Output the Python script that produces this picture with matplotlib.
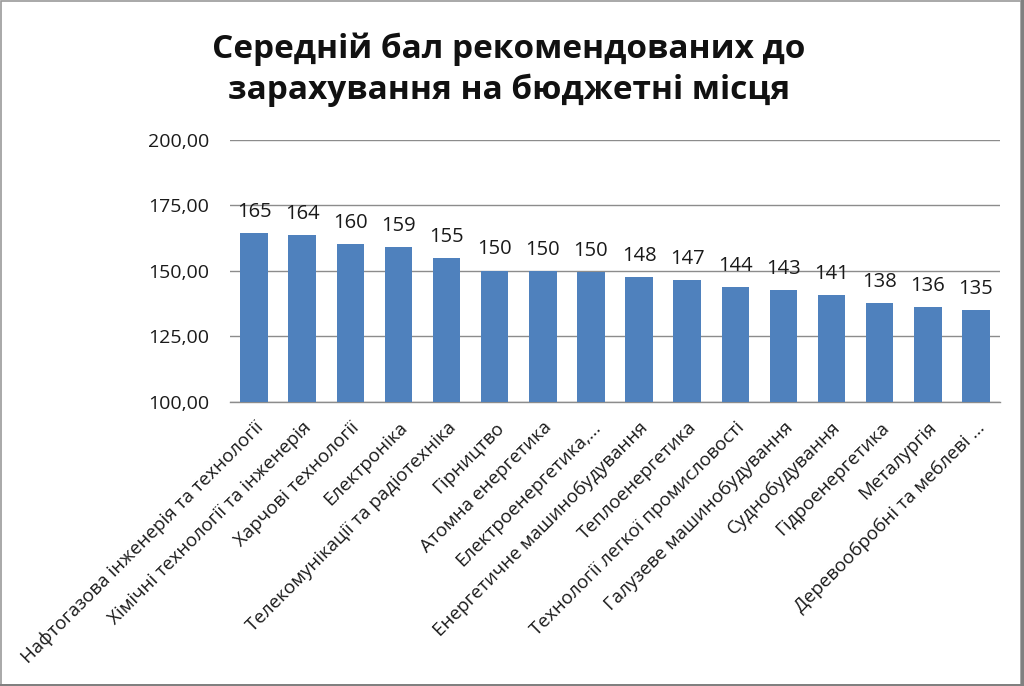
import matplotlib
matplotlib.use("Agg")
import matplotlib.pyplot as plt
from matplotlib.patches import Rectangle
from matplotlib.ticker import FuncFormatter

plt.rcParams['font.family'] = ['Open Sans', 'DejaVu Sans']

# categories and values
categories = [
    "Нафтогазова інженерія та технології",
    "Хімічні технології та інженерія",
    "Харчові технології",
    "Електроніка",
    "Телекомунікації та радіотехніка",
    "Гірництво",
    "Атомна енергетика",
    "Електроенергетика,...",
    "Енергетичне машинобудування",
    "Теплоенергетика",
    "Технології легкої промисловості",
    "Галузеве машинобудування",
    "Суднобудування",
    "Гідроенергетика",
    "Металургія",
    "Деревообробні та меблеві ...",
]
scores = [164.6, 163.6, 160.3, 159.0, 155.0, 150.1, 150.0, 149.6,
          147.6, 146.6, 143.8, 142.7, 140.6, 137.6, 136.2, 135.0]
y_ticks = [100, 125, 150, 175, 200]
title = "Середній бал рекомендованих до\nзарахування на бюджетні місця"

bar_color = "#4F81BD"
grid_color = "#8C8C8C"

fig = plt.figure(figsize=(10.24, 6.86), dpi=100)
ax = fig.add_axes([230 / 1024, 1 - 401.7 / 686, 770 / 1024, 261.7 / 686])

x = range(len(categories))
bars = ax.bar(x, scores, width=0.57, color=bar_color, zorder=3)

# value labels above bars
for rect, v in zip(bars, scores):
    ax.annotate(f"{v:.0f}", (rect.get_x() + rect.get_width() / 2, rect.get_height()),
                xytext=(0, 8), textcoords="offset points",
                ha="center", va="bottom", fontsize=14.5, color="#1a1a1a")

ax.set_ylim(100, 200)
ax.set_xlim(-0.5, len(categories) - 0.5)
ax.set_yticks(y_ticks)
ax.yaxis.set_major_formatter(FuncFormatter(lambda v, p: f"{v:.2f}".replace(".", ",")))
ax.yaxis.grid(True, color=grid_color, linewidth=1.0, zorder=0)
ax.tick_params(axis="y", length=0, labelsize=14, pad=15, labelcolor="#1a1a1a")
ax.tick_params(axis="x", length=0, labelsize=13.5, pad=12, labelcolor="#1a1a1a")

ax.set_xticks(list(x))
ax.set_xticklabels(categories, rotation=45, ha="right", rotation_mode="anchor")

for side in ["left", "right", "top"]:
    ax.spines[side].set_visible(False)
ax.spines["bottom"].set_color(grid_color)
ax.spines["bottom"].set_linewidth(1.0)

fig.text(509 / 1024, 1 - 70 / 686, title, ha="center", va="center",
         fontsize=24, fontweight="bold", linespacing=1.3, color="#111111")

# chart frame
fig.patches.append(Rectangle((0.0005, 0.002), 0.9965, 0.996, transform=fig.transFigure,
                             fill=False, edgecolor="#9a9a9a", linewidth=1.2))
fig.patches.append(Rectangle((1020.5 / 1024, 0), 3.5 / 1024, 1, transform=fig.transFigure,
                             facecolor="#808080", edgecolor="none"))
fig.patches.append(Rectangle((0, 0), 1, 2.5 / 686, transform=fig.transFigure,
                             facecolor="#808080", edgecolor="none"))

fig.savefig("out.png", dpi=100)
